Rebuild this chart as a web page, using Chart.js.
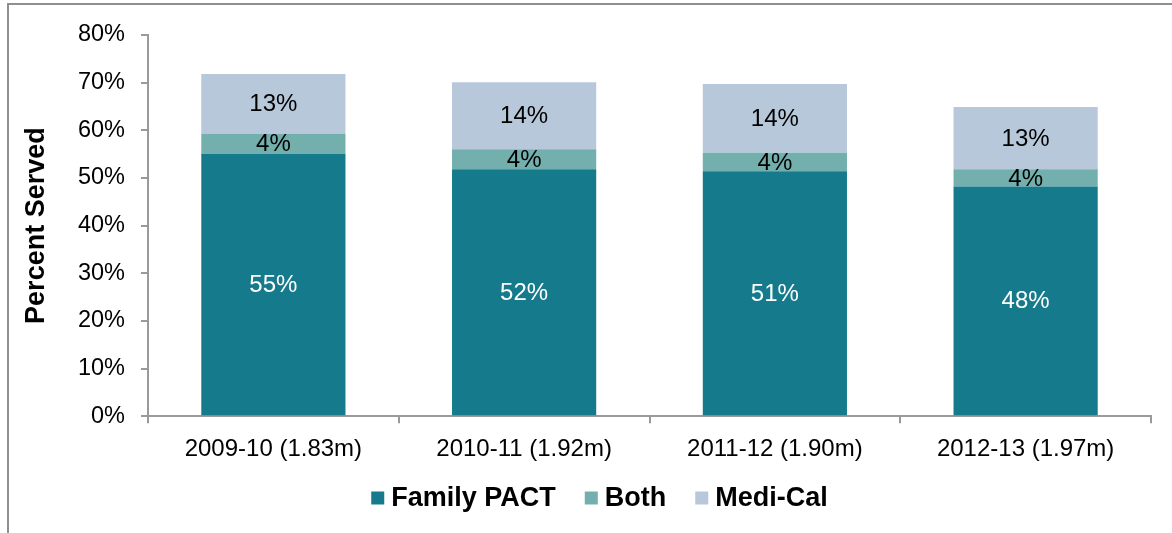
<!DOCTYPE html>
<html>
<head>
<meta charset="utf-8">
<script src="https://cdn.jsdelivr.net/npm/chart.js@4.4.1/dist/chart.umd.min.js"></script>
<style>
    html, body { margin: 0; padding: 0; background: #fff; }
    #wrap { position: relative; width: 1172px; height: 533px; overflow: hidden; }
    #frame {
        position: absolute; left: 7px; top: 3px; width: 1300px; height: 700px;
        border-left: 2px solid #8f8f8f; border-top: 2px solid #8f8f8f;
    }
    canvas { position: absolute; left: 0; top: 0; }
</style>
</head>
<body>
<div id="wrap">
    <div id="frame"></div>
    <canvas id="servedChart" width="1172" height="533"></canvas>
</div>
<script>
// Percent served by program, per fiscal year
const years = ['2009-10 (1.83m)', '2010-11 (1.92m)', '2011-12 (1.90m)', '2012-13 (1.97m)'];
const familyPact = [55.1, 51.8, 51.4, 48.2];
const both = [4.2, 4.2, 3.9, 3.6];
const mediCal = [12.5, 14.1, 14.4, 13.1];
const yTicks = [0, 10, 20, 30, 40, 50, 60, 70, 80];

const FONT = "'Liberation Sans', Arial, sans-serif";
const AXIS_GRAY = '#9a9a9a';

// draws the rounded % label in the middle of every segment
const segmentLabels = {
    id: 'segmentLabels',
    afterDatasetsDraw(chart) {
        const ctx = chart.ctx;
        ctx.save();
        ctx.font = '24px ' + FONT;
        ctx.textAlign = 'center';
        ctx.textBaseline = 'middle';
        chart.data.datasets.forEach((ds, i) => {
            const meta = chart.getDatasetMeta(i);
            meta.data.forEach((bar, j) => {
                const mid = (bar.y + bar.base) / 2;
                ctx.fillStyle = i === 0 ? '#ffffff' : '#000000';
                ctx.fillText(Math.round(ds.data[j]) + '%', bar.x, mid + 1);
            });
        });
        ctx.restore();
    }
};

// legend drawn by hand so the box/text gaps match the original (Excel style)
const bottomLegend = {
    id: 'bottomLegend',
    afterDraw(chart) {
        const ctx = chart.ctx;
        const box = 13, gap = 7, spacing = 29;
        ctx.save();
        ctx.font = 'bold 27px ' + FONT;
        ctx.textBaseline = 'middle';
        const items = chart.data.datasets.map(ds => ({
            text: ds.label,
            color: ds.backgroundColor,
            w: ctx.measureText(ds.label).width
        }));
        const total = items.reduce((s, it) => s + box + gap + it.w, 0) + spacing * (items.length - 1);
        const centerX = chart.chartArea.left + (chart.chartArea.right - chart.chartArea.left) / 2 - 50;
        const y = chart.height - 35;
        let x = centerX - total / 2;
        items.forEach(it => {
            ctx.fillStyle = it.color;
            ctx.fillRect(x, y - box / 2, box, box);
            ctx.fillStyle = '#000';
            ctx.fillText(it.text, x + box + gap, y + 1);
            x += box + gap + it.w + spacing;
        });
        ctx.restore();
    }
};

const ctx = document.getElementById('servedChart');
new Chart(ctx, {
    type: 'bar',
    data: {
        labels: years,
        datasets: [
            {
                label: 'Family PACT',
                data: familyPact,
                backgroundColor: '#147a8c'
            },
            {
                label: 'Both',
                data: both,
                backgroundColor: '#72afad'
            },
            {
                label: 'Medi-Cal',
                data: mediCal,
                backgroundColor: '#b7c8da'
            }
        ]
    },
    plugins: [segmentLabels, bottomLegend],
    options: {
        responsive: false,
        animation: false,
        layout: {
            padding: { left: 20, right: 21, top: 35, bottom: 57 }
        },
        datasets: {
            bar: {
                categoryPercentage: 1,
                barPercentage: 0.575,
                borderWidth: 0
            }
        },
        plugins: {
            legend: { display: false },
            tooltip: { enabled: false }
        },
        scales: {
            x: {
                stacked: true,
                grid: {
                    drawOnChartArea: false,
                    tickLength: 7,
                    color: AXIS_GRAY,
                    lineWidth: 2
                },
                border: { color: AXIS_GRAY, width: 2 },
                ticks: {
                    color: '#000',
                    font: { family: FONT, size: 24 },
                    padding: 12,
                    maxRotation: 0
                }
            },
            y: {
                stacked: true,
                min: 0,
                max: 80,
                afterBuildTicks(scale) {
                    scale.ticks = yTicks.map(v => ({ value: v }));
                },
                afterFit(scale) {
                    scale.width = 128;
                },
                grid: {
                    drawOnChartArea: false,
                    tickLength: 7,
                    color: AXIS_GRAY,
                    lineWidth: 2
                },
                border: { color: AXIS_GRAY, width: 2 },
                ticks: {
                    color: '#000',
                    font: { family: FONT, size: 23.5 },
                    padding: 16,
                    callback: v => v + '%'
                },
                title: {
                    display: true,
                    text: 'Percent Served',
                    color: '#000',
                    font: { family: FONT, size: 27, weight: 'bold' },
                    padding: { top: 0, bottom: 0 }
                }
            }
        }
    }
});
</script>
</body>
</html>
